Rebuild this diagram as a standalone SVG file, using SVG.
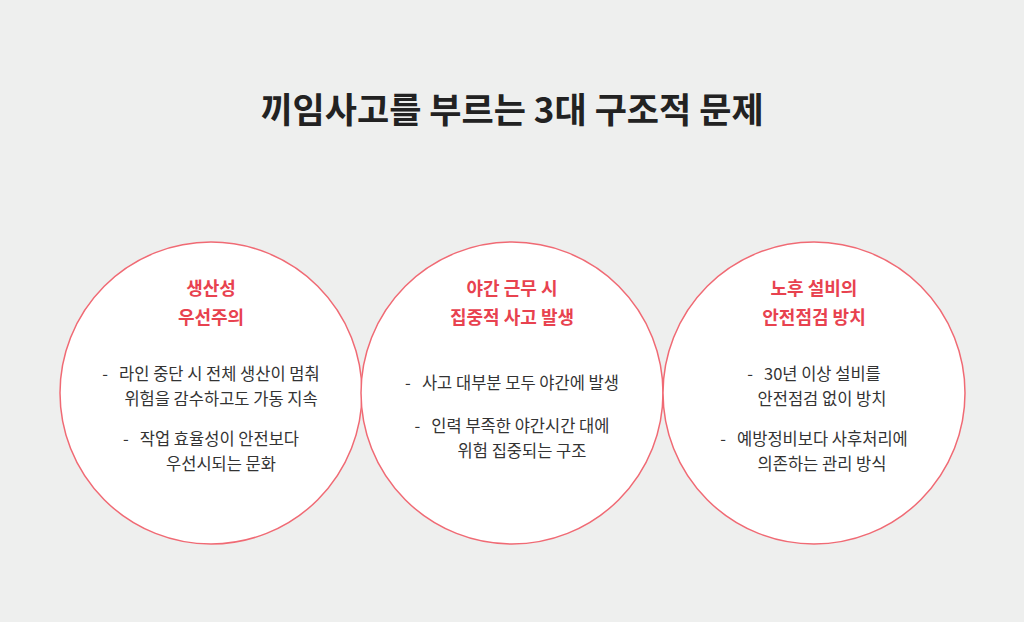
<svg xmlns="http://www.w3.org/2000/svg" width="1024" height="622" viewBox="0 0 1024 622">
<style>
text{font-family:"Noto Sans CJK KR","Noto Sans",sans-serif;text-anchor:middle}
.t{font-size:35px;font-weight:700;fill:#222}
.h{font-size:18px;font-weight:700;fill:#e8424f}
.b{font-size:16.5px;fill:#333}
.c{fill:#fff;stroke:#f06a74;stroke-width:1.5}
</style>
<rect width="1024" height="622" fill="#eeefee"/>
<text class="t" x="512" y="123">끼임사고를 부르는 3대 구조적 문제</text>
<g id="node1"><circle class="c" cx="211" cy="393" r="151"/>
<text class="h" x="211" y="295">생산성</text><text class="h" x="211" y="324">우선주의</text>
<text class="b" x="211" y="380" xml:space="preserve">-   라인 중단 시 전체 생산이 멈춰</text>
<text class="b" x="221" y="405">위험을 감수하고도 가동 지속</text>
<text class="b" x="211" y="445" xml:space="preserve">-   작업 효율성이 안전보다</text>
<text class="b" x="221" y="470">우선시되는 문화</text></g>
<g id="node2"><circle class="c" cx="512" cy="393" r="151"/>
<text class="h" x="512" y="295">야간 근무 시</text><text class="h" x="512" y="324">집중적 사고 발생</text>
<text class="b" x="512" y="389" xml:space="preserve">-   사고 대부분 모두 야간에 발생</text>
<text class="b" x="512" y="432" xml:space="preserve">-   인력 부족한 야간시간 대에</text>
<text class="b" x="522" y="457">위험 집중되는 구조</text></g>
<g id="node3"><circle class="c" cx="814" cy="393" r="151"/>
<text class="h" x="814" y="295">노후 설비의</text><text class="h" x="814" y="324">안전점검 방치</text>
<text class="b" x="814" y="380" xml:space="preserve">-   30년 이상 설비를</text>
<text class="b" x="822" y="405">안전점검 없이 방치</text>
<text class="b" x="814" y="445" xml:space="preserve">-   예방정비보다 사후처리에</text>
<text class="b" x="822" y="470">의존하는 관리 방식</text></g>
<g id="connectors"/>
</svg>
